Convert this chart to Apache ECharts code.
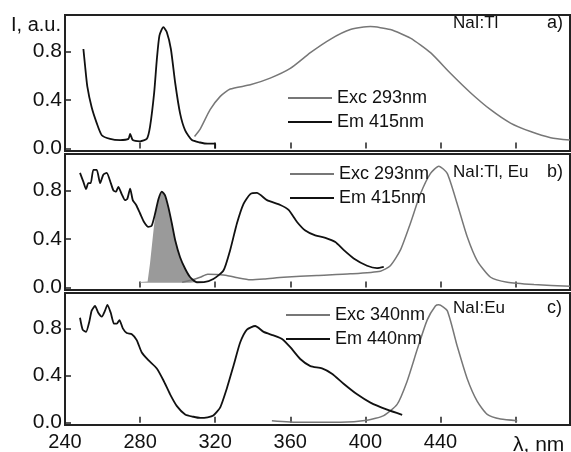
<!DOCTYPE html>
<html>
<head>
<meta charset="utf-8">
<script src="https://cdn.jsdelivr.net/npm/echarts@6/dist/echarts.min.js"></script>
<style>
  html, body { margin: 0; padding: 0; background: #fff; }
  #chart { width: 571px; height: 452px; }
</style>
</head>
<body>
<div id="chart"></div>
<script>
// x axis (nm)
const xTicks = [280, 320, 360, 400, 440, 480]
const xLabels = [240, 280, 320, 360, 400, 440]
const yTicks = [0, 0.4, 0.8]

// panel a) NaI:Tl
const excA = [[309,0.1],[312,0.16],[317.3,0.32],[322.7,0.43],[328,0.49],[338.7,0.525],[349.3,0.58],[360,0.66],[370.7,0.79],[381.3,0.9],[392,0.98],[402.7,1.005],[413.3,0.98],[424,0.91],[434.7,0.79],[445.3,0.62],[456,0.46],[466.7,0.32],[477.3,0.21],[488,0.14],[498.7,0.09],[509,0.07]]
const emA = [[249.8,0.82],[250.7,0.68],[251.9,0.51],[254.2,0.34],[256.9,0.21],[259.6,0.11],[264,0.08],[269.3,0.07],[273.8,0.08],[274.7,0.12],[276.1,0.07],[280,0.06],[283.6,0.08],[285.3,0.18],[287.5,0.46],[288.9,0.73],[290.3,0.93],[292.4,1.0],[294.2,0.96],[296.4,0.82],[298.7,0.54],[301.3,0.29],[304,0.15],[307.6,0.07],[312,0.05],[316,0.04],[320,0.04],[320,0.0]]

// panel b) NaI:Tl, Eu
const excB = [[302.4,0.044],[307,0.06],[312,0.085],[316,0.11],[320.9,0.107],[326.2,0.1],[332,0.08],[338.7,0.064],[346,0.07],[356.4,0.085],[374.2,0.1],[392,0.113],[408,0.135],[413.3,0.18],[418.7,0.31],[424,0.53],[429.3,0.77],[434.7,0.94],[439.1,1.0],[443.6,0.94],[448.9,0.69],[454.2,0.42],[459.6,0.22],[466.7,0.085],[475.6,0.044],[489.8,0.025],[509,0.01]]
const emB = [[248,0.945],[249.8,0.87],[251.2,0.81],[252.4,0.86],[253.7,0.86],[255.1,0.97],[256.9,0.97],[258.7,0.86],[260.4,0.93],[262.2,0.945],[264.4,0.86],[265.8,0.8],[267.2,0.79],[268.4,0.83],[270.2,0.77],[272,0.72],[273.2,0.73],[274.7,0.815],[276.1,0.72],[277.9,0.68],[280,0.61],[282.1,0.54],[284.4,0.5],[286.2,0.51],[288,0.61],[289.8,0.73],[291.6,0.79],[293.3,0.76],[295.1,0.66],[296.9,0.53],[298.7,0.39],[301.3,0.25],[304,0.155],[306.7,0.085],[310.2,0.044],[314,0.045],[319,0.07],[324.4,0.14],[328,0.31],[331.6,0.53],[335.1,0.69],[338.7,0.77],[342.2,0.78],[347.6,0.72],[354.7,0.68],[359.1,0.64],[363.6,0.54],[368,0.47],[373.3,0.43],[378.7,0.41],[384,0.375],[388.4,0.31],[393.8,0.24],[400.9,0.18],[406.2,0.16],[409.8,0.17]]
const bandB = [[280,0.045],[284,0.05],[285.3,0.2],[286.8,0.42],[288.2,0.62],[289.8,0.74],[291.6,0.79],[293.3,0.76],[295.1,0.66],[296.9,0.53],[298.7,0.39],[301.3,0.25],[304,0.155],[306.7,0.085],[310.2,0.045]]

// panel c) NaI:Eu
const excC = [[350.2,0.017],[365.3,0.003],[386.7,0.003],[400.9,0.02],[409.8,0.06],[416.9,0.155],[422.2,0.35],[427.6,0.62],[432.9,0.87],[437.3,0.99],[439.1,1.0],[443.6,0.95],[448.9,0.65],[454.2,0.375],[459.6,0.18],[464.9,0.07],[472,0.03],[480.9,0.017]]
const emC = [[248,0.89],[249.4,0.79],[251.2,0.77],[253,0.86],[254.2,0.95],[256,0.99],[257.8,0.93],[259.6,0.9],[261.3,0.95],[262.6,1.0],[264.4,0.93],[266.1,0.84],[267.6,0.84],[269,0.87],[270.8,0.8],[272.9,0.76],[275.6,0.75],[278.2,0.7],[280.9,0.595],[284.4,0.53],[288.9,0.46],[292.4,0.36],[296,0.24],[299.6,0.14],[304,0.07],[308.4,0.05],[312,0.04],[316,0.045],[319,0.06],[322.7,0.13],[326.2,0.29],[329.8,0.485],[333.3,0.68],[336.9,0.79],[341.3,0.82],[345.8,0.77],[351.1,0.74],[355.6,0.71],[360,0.64],[365.3,0.54],[370.7,0.48],[376.9,0.46],[382.2,0.415],[388.4,0.33],[395.6,0.24],[402.7,0.17],[411.6,0.11],[419.6,0.066]]

const FONT = '"Liberation Sans", Arial, sans-serif'
const GRAY = '#777'
const BLACK = '#111'
const tops = [15, 154, 293]

const chart = echarts.init(document.getElementById('chart'))

const grids = tops.map(t => ({
  left: 65, right: 1, top: t, height: 136,
  show: true, borderColor: '#222', borderWidth: 2, backgroundColor: '#fff'
}))

const xAxes = tops.map((t, i) => ({
  type: 'value', gridIndex: i, min: 240, max: 509,
  axisLine: { show: false },
  splitLine: { show: false },
  axisTick: { show: true, inside: true, length: 6, customValues: xTicks, lineStyle: { color: '#222', width: 1.5 } },
  axisLabel: { show: i === 2, customValues: xLabels, fontSize: 20, fontFamily: FONT, color: BLACK, margin: 7 }
}))

const yAxes = tops.map((t, i) => ({
  type: 'value', gridIndex: i, min: -0.02, max: 1.1,
  axisLine: { show: false },
  splitLine: { show: false },
  axisTick: { show: true, inside: true, length: 6, customValues: yTicks, lineStyle: { color: '#222', width: 1.5 } },
  axisLabel: { customValues: yTicks, formatter: v => v.toFixed(1), fontSize: 21, fontFamily: FONT, color: BLACK, margin: 3 }
}))

const line = (name, data, idx, color, width) => ({
  name, type: 'line', data, xAxisIndex: idx, yAxisIndex: idx,
  symbol: 'none', smooth: 0.2, color,
  itemStyle: { color },
  lineStyle: { color, width }
})

const legend = (left, top, names) => ({
  left, top, orient: 'vertical', padding: 0, itemGap: 4,
  icon: 'rect', itemWidth: 44, itemHeight: 2,
  data: names, selectedMode: false,
  textStyle: { fontSize: 18, fontFamily: FONT, color: BLACK, lineHeight: 20 }
})

const label = (text, x, y, size) => ({
  type: 'text', x, y, z: 100,
  style: { text, fill: BLACK, font: size + 'px ' + FONT, verticalAlign: 'middle' }
})

chart.setOption({
  animation: false,
  backgroundColor: '#fff',
  grid: grids,
  xAxis: xAxes,
  yAxis: yAxes,
  legend: [
    legend(288, 88, ['Exc 293nm', 'Em 415nm']),
    legend(290, 164, ['Exc 293nm', 'Em 415nm']),
    legend(286, 305, ['Exc 340nm', 'Em 440nm'])
  ],
  series: [
    line('Exc 293nm', excA, 0, GRAY, 1.5),
    line('Em 415nm', emA, 0, BLACK, 1.8),
    {
      type: 'line', data: bandB, xAxisIndex: 1, yAxisIndex: 1, symbol: 'none',
      lineStyle: { width: 0 }, areaStyle: { color: '#9a9a9a', opacity: 1, origin: 0.04 }, silent: true
    },
    line('Exc 293nm', excB, 1, GRAY, 1.5),
    line('Em 415nm', emB, 1, BLACK, 1.8),
    line('Exc 340nm', excC, 2, GRAY, 1.5),
    line('Em 440nm', emC, 2, BLACK, 1.8)
  ],
  graphic: [
    label('I, a.u.', 11, 25, 20),
    label('NaI:Tl', 453, 23, 17),
    label('a)', 547, 23, 18),
    label('NaI:Tl, Eu', 453, 172, 17),
    label('b)', 547, 172, 18),
    label('NaI:Eu', 453, 308, 17),
    label('c)', 547, 308, 18),
    label('λ, nm', 513, 445, 21)
  ]
})

window.addEventListener('resize', () => chart.resize())
</script>
</body>
</html>
